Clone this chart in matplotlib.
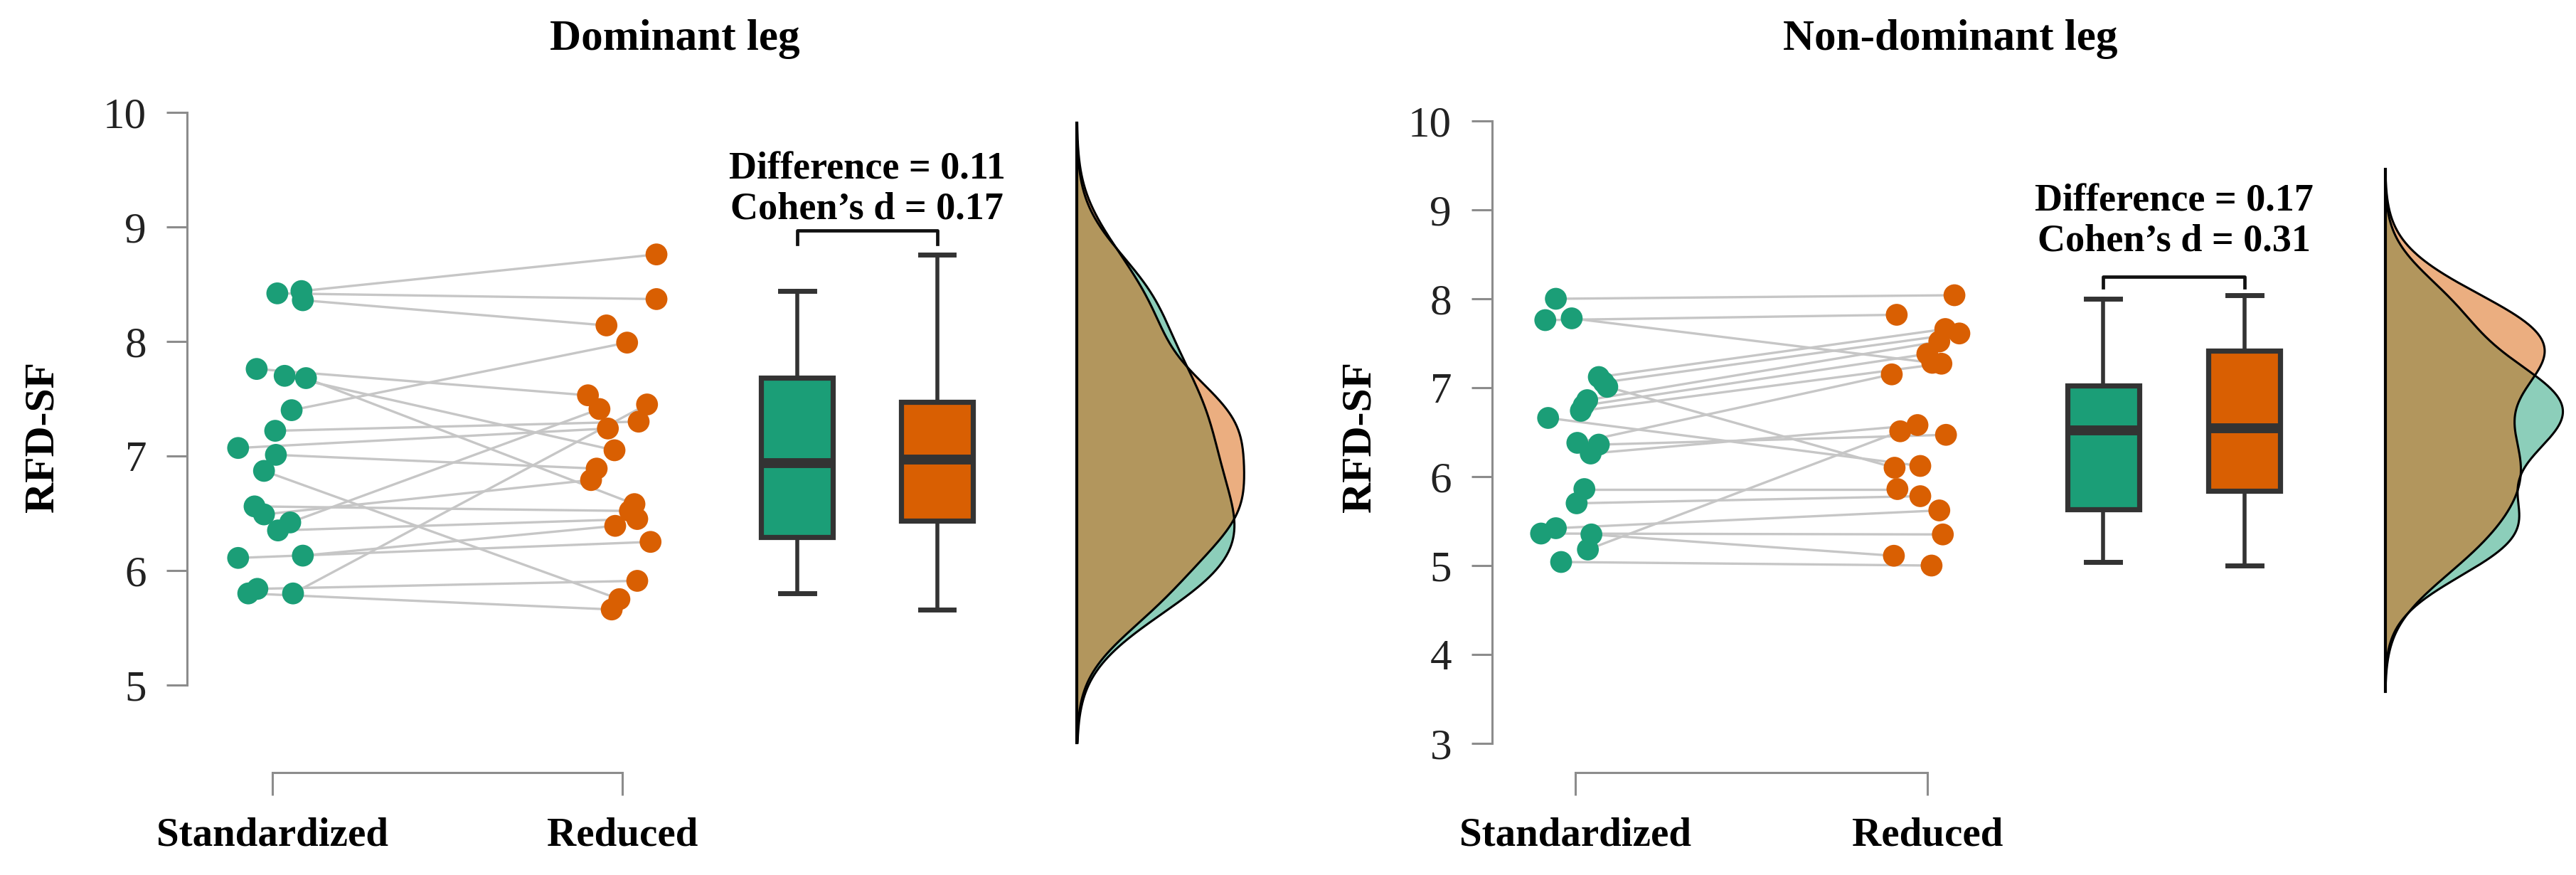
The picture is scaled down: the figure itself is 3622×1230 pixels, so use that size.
import numpy as np
import matplotlib
matplotlib.use("Agg")
import matplotlib.pyplot as plt

plt.rcParams['font.family'] = ['Liberation Serif', 'DejaVu Serif']

groups = ['Standardized', 'Reduced']
titles = ['Dominant leg', 'Non-dominant leg']
stats_text = ['Difference = 0.11\nCohen\u2019s d = 0.17',
              'Difference = 0.17\nCohen\u2019s d = 0.31']

# dominant leg, paired values (same index = same subject)
dom_std = [8.44, 8.42, 8.36, 7.76, 7.70, 7.68, 7.40, 7.22, 7.07, 7.01,
           6.87, 6.56, 6.49, 6.42, 6.35, 6.11, 6.13, 5.80, 5.84, 5.80]
dom_red = [8.76, 8.37, 8.14, 7.53, 7.05, 6.58, 7.99, 7.30, 7.24, 6.89,
           5.75, 6.52, 6.79, 7.41, 6.45, 6.25, 6.39, 7.45, 5.91, 5.66]
dom_std_jit = [0.083, 0.014, 0.087, -0.045, 0.035, 0.096, 0.055, 0.008, -0.098, 0.010,
               -0.024, -0.051, -0.024, 0.051, 0.016, -0.098, 0.087, 0.059, -0.043, -0.069]
dom_red_jit = [0.098, 0.098, -0.045, -0.098, -0.022, 0.035, 0.014, 0.047, -0.041, -0.073,
               -0.008, 0.022, -0.089, -0.065, 0.043, 0.081, -0.020, 0.071, 0.043, -0.030]

# non-dominant leg
nd_std = [8.00, 7.76, 7.78, 7.12, 7.06, 7.01, 6.86, 6.80, 6.74, 6.66,
          6.38, 6.36, 6.26, 5.86, 5.70, 5.42, 5.36, 5.35, 5.18, 5.04]
nd_red = [8.04, 7.82, 7.28, 7.66, 7.61, 6.10, 7.52, 7.38, 7.27, 6.12,
          7.15, 6.47, 6.58, 5.86, 5.78, 5.62, 5.35, 5.11, 6.51, 5.00]
nd_std_jit = [-0.055, -0.085, -0.010, 0.067, 0.081, 0.091, 0.034, 0.024, 0.016, -0.077,
              0.006, 0.067, 0.044, 0.026, 0.004, -0.055, -0.097, 0.046, 0.036, -0.040]
nd_red_jit = [0.077, -0.087, 0.014, 0.051, 0.091, -0.093, 0.034, 0.0, 0.040, -0.020,
              -0.101, 0.053, -0.028, -0.085, -0.020, 0.034, 0.044, -0.095, -0.077, 0.012]

green = '#1b9e77'
orange = '#d95f02'
axcol = '#8c8c8c'

W, H = 3622, 1230
fig = plt.figure(figsize=(W / 100, H / 100), dpi=100)


def px_axes(x0, x1, y_top, y_bot):
    return fig.add_axes([x0 / W, 1 - y_bot / H, (x1 - x0) / W, (y_bot - y_top) / H])


def nrd0(x):
    sd = np.std(x, ddof=1)
    q75, q25 = np.percentile(x, [75, 25])
    return 0.9 * min(sd, (q75 - q25) / 1.34) * len(x) ** -0.2


def kde(x):
    x = np.asarray(x)
    bw = nrd0(x)
    grid = np.linspace(x.min() - 3 * bw, x.max() + 3 * bw, 512)
    d = np.exp(-0.5 * ((grid[:, None] - x[None, :]) / bw) ** 2).sum(1)
    d = d / (len(x) * bw * np.sqrt(2 * np.pi))
    return grid, d


panels = [
    dict(std=dom_std, red=dom_red, sj=dom_std_jit, rj=dom_red_jit,
         box=(263, 1770, 125.8, 1086), xlim=(0.756, 3.82), ylim=(4.236, 10.2),
         yticks=range(5, 11), dens_w=0.478, txt_off=12,
         title_x=949, ylab_x=61),
    dict(std=nd_std, red=nd_red, sj=nd_std_jit, rj=nd_red_jit,
         box=(2098, 3611, 132.5, 1086), xlim=(0.764, 3.82), ylim=(2.672, 10.3),
         yticks=range(3, 11), dens_w=0.505, txt_off=26,
         title_x=2742, ylab_x=1913),
]

for i, p in enumerate(panels):
    ax = px_axes(*p['box'])
    ax.set_xlim(*p['xlim'])
    ax.set_ylim(*p['ylim'])

    std = np.array(p['std'])
    red = np.array(p['red'])
    xs = 1 + np.array(p['sj'])
    xr = 2 + np.array(p['rj'])

    # paired lines
    for a, b, ya, yb in zip(xs, xr, std, red):
        ax.plot([a, b], [ya, yb], color='#c6c6c6', lw=2.4, zorder=1,
                solid_capstyle='round')
    ax.scatter(xs, std, s=490, color=green, edgecolors='none', zorder=3)
    ax.scatter(xr, red, s=490, color=orange, edgecolors='none', zorder=3)

    # box plots
    bp = ax.boxplot([std, red], positions=[2.5, 2.9], widths=0.205,
                    patch_artist=True, showfliers=False, capwidths=0.097,
                    manage_ticks=False, zorder=2)
    for patch, c in zip(bp['boxes'], [green, orange]):
        patch.set_facecolor(c)
        patch.set_edgecolor('#333333')
        patch.set_linewidth(5.2)
    for w in bp['whiskers']:
        w.set_color('#333333')
        w.set_linewidth(4.0)
    for c in bp['caps']:
        c.set_color('#333333')
        c.set_linewidth(5.0)
    for m in bp['medians']:
        m.set_color('#333333')
        m.set_linewidth(10)
        m.set_solid_capstyle('butt')

    # bracket + stats
    top = max(std.max(), red.max())
    yb_top = top + 0.21
    yb_leg = top + 0.09
    ax.plot([2.5, 2.5, 2.9, 2.9], [yb_leg, yb_top, yb_top, yb_leg],
            color='#111111', lw=3.4, zorder=4)
    ax.annotate(stats_text[i], xy=(2.7, yb_top), xytext=(0, p['txt_off']),
                textcoords='offset points', ha='center', va='baseline',
                fontsize=39, fontweight='bold', linespacing=1.15)

    # half densities
    base = 3.3
    gs, ds = kde(std)
    gr, dr = kde(red)
    k = p['dens_w'] / max(ds.max(), dr.max())
    ax.fill_betweenx(gs, base, base + ds * k, facecolor=green, alpha=0.5,
                     edgecolor='none', zorder=2)
    ax.plot(base + ds * k, gs, color='black', lw=2.2, zorder=3)
    ax.fill_betweenx(gr, base, base + dr * k, facecolor=orange, alpha=0.5,
                     edgecolor='none', zorder=2)
    ax.plot(base + dr * k, gr, color='black', lw=2.2, zorder=3)
    ax.plot([base, base], [min(gs.min(), gr.min()), max(gs.max(), gr.max())],
            color='black', lw=3.0, zorder=3)

    # axes styling
    for s in ['top', 'right']:
        ax.spines[s].set_visible(False)
    ax.spines['left'].set_bounds(min(p['yticks']), max(p['yticks']))
    ax.spines['bottom'].set_bounds(1, 2)
    for s in ['left', 'bottom']:
        ax.spines[s].set_color(axcol)
        ax.spines[s].set_linewidth(2.2)
    ax.set_yticks(list(p['yticks']))
    ax.set_xticks([1, 2])
    ax.set_xticklabels(groups, fontweight='bold', fontsize=41)
    ax.tick_params(axis='y', direction='out', length=21, width=2.2, color=axcol,
                   labelsize=44, labelcolor='#222222', pad=20)
    ax.tick_params(axis='x', direction='out', length=23, width=2.2, color=axcol,
                   pad=22)
    ax.patch.set_alpha(0)

    fig.text(p['title_x'] / W, 1 - 70 / H, titles[i], ha='center', va='baseline',
             fontsize=44, fontweight='bold')
    fig.text(p['ylab_x'] / W, 1 - 614 / H, 'RFD-SF', ha='center', va='center',
             rotation=90, fontsize=43, fontweight='bold')

fig.savefig('out.png', dpi=100, facecolor='white')
